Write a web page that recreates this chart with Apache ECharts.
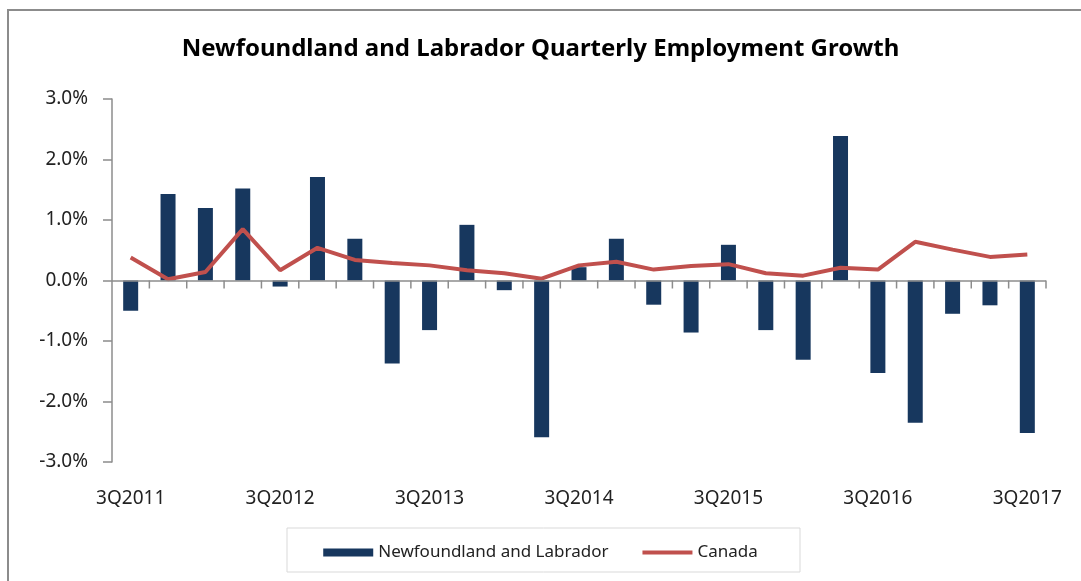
<!DOCTYPE html>
<html>
<head>
<meta charset="utf-8">
<script src="https://cdn.jsdelivr.net/npm/echarts@6/dist/echarts.min.js"></script>
<style>
  html, body { margin: 0; padding: 0; background: #fff; }
  #chart { width: 1081px; height: 581px; }
</style>
</head>
<body>
<div id="chart"></div>
<script>
var quarters = [
  '3Q2011', '4Q2011', '1Q2012', '2Q2012', '3Q2012', '4Q2012', '1Q2013', '2Q2013',
  '3Q2013', '4Q2013', '1Q2014', '2Q2014', '3Q2014', '4Q2014', '1Q2015', '2Q2015',
  '3Q2015', '4Q2015', '1Q2016', '2Q2016', '3Q2016', '4Q2016', '1Q2017', '2Q2017',
  '3Q2017'
]
// percent growth, quarter over quarter
var nlGrowth = [
  -0.50, 1.43, 1.20, 1.52, -0.10, 1.71, 0.69, -1.37,
  -0.82, 0.92, -0.16, -2.59, 0.22, 0.69, -0.40, -0.86,
  0.59, -0.82, -1.31, 2.39, -1.53, -2.35, -0.55, -0.41,
  -2.52
]
var canadaGrowth = [
  0.38, 0.02, 0.14, 0.85, 0.17, 0.54, 0.34, 0.29,
  0.25, 0.17, 0.12, 0.03, 0.25, 0.31, 0.18, 0.24,
  0.27, 0.12, 0.08, 0.21, 0.18, 0.64, 0.51, 0.39,
  0.43
]

var font = 'Noto Sans'
var axisGrey = '#8c8c8c'
var chart = echarts.init(document.getElementById('chart'))
var frame = [
  {
    type: 'rect',
    silent: true,
    shape: { x: 8, y: 10, width: 1200, height: 700 },
    style: { fill: null, stroke: axisGrey, lineWidth: 2 }
  },
  {
    type: 'rect',
    silent: true,
    shape: { x: 287, y: 528, width: 513, height: 44 },
    style: { fill: null, stroke: '#d9d9d9', lineWidth: 1 }
  }
]

chart.setOption({
  animation: false,
  textStyle: { fontFamily: font },
  title: {
    text: 'Newfoundland and Labrador Quarterly Employment Growth',
    left: 'center',
    top: 32,
    textStyle: { fontFamily: font, fontSize: 24, fontWeight: 'bold', color: '#000' }
  },
  graphic: frame,
  grid: { left: 112, right: 35, top: 99, bottom: 119 },
  legend: {
    top: 539,
    left: 'center',
    itemGap: 32,
    itemWidth: 50,
    itemHeight: 8,
    textStyle: { fontFamily: font, fontSize: 17, color: '#222' },
    data: [
      { name: 'Newfoundland and Labrador', icon: 'rect' },
      { name: 'Canada', itemStyle: { opacity: 0 }, lineStyle: { width: 4, color: '#C0504D' } }
    ]
  },
  xAxis: {
    type: 'category',
    data: quarters,
    axisLine: { show: false },
    axisTick: { show: false },
    axisLabel: { interval: 3, fontSize: 19, color: '#222', margin: 27 }
  },
  yAxis: {
    type: 'value',
    min: -3,
    max: 3,
    interval: 1,
    splitLine: { show: false },
    axisLine: { show: true, lineStyle: { color: axisGrey, width: 1.5 } },
    axisTick: { show: true, length: 9, lineStyle: { color: axisGrey, width: 1.5 } },
    axisLabel: {
      fontSize: 19,
      color: '#222',
      margin: 24,
      formatter: function (v) { return v.toFixed(1) + '%' }
    }
  },
  series: [
    {
      name: 'Newfoundland and Labrador',
      type: 'bar',
      data: nlGrowth,
      barWidth: 15,
      itemStyle: { color: '#17375E' },
      markLine: {
        silent: true,
        symbol: 'none',
        label: { show: false },
        lineStyle: { color: axisGrey, width: 1.5, type: 'solid' },
        data: [{ yAxis: 0 }]
      }
    },
    {
      name: 'Canada',
      type: 'line',
      data: canadaGrowth,
      symbol: 'none',
      z: 3,
      lineStyle: { color: '#C0504D', width: 4 },
      itemStyle: { color: '#C0504D' }
    }
  ]
})

// little ticks at each category boundary hanging below the zero line
var step = chart.convertToPixel({ xAxisIndex: 0 }, quarters[1]) - chart.convertToPixel({ xAxisIndex: 0 }, quarters[0])
var zeroY = chart.convertToPixel({ yAxisIndex: 0 }, 0)
var startX = chart.convertToPixel({ xAxisIndex: 0 }, quarters[0]) - step / 2
var ticks = []
for (var i = 1; i <= quarters.length; i++) {
  ticks.push({
    type: 'line',
    silent: true,
    shape: { x1: startX + i * step, y1: zeroY, x2: startX + i * step, y2: zeroY + 8 },
    style: { stroke: axisGrey, lineWidth: 1.5 }
  })
}
chart.setOption({ graphic: frame.concat(ticks) })
</script>
</body>
</html>
